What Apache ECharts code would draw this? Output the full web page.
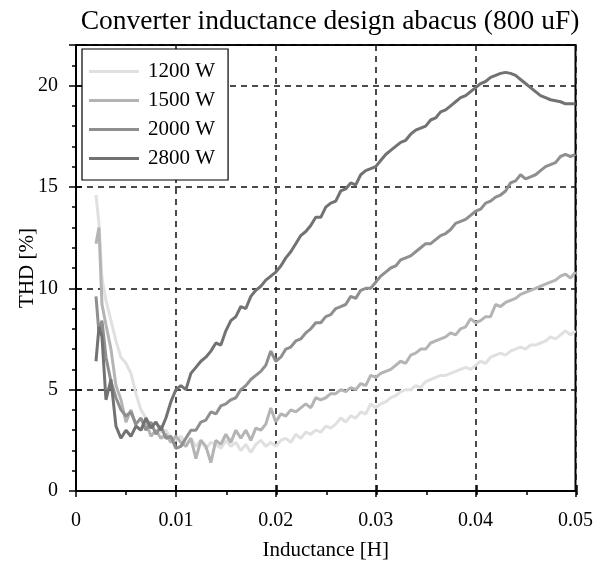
<!DOCTYPE html>
<html><head><meta charset="utf-8">
<script src="https://cdn.jsdelivr.net/npm/echarts@6/dist/echarts.min.js"></script>
<style>html,body{margin:0;padding:0;background:#fff}#c{width:596px;height:570px}</style>
</head><body><div id="c"></div>
<script>
const inductance = [0.0020,0.0023,0.0026,
  0.0030,0.0035,0.0040,0.0045,0.0050,0.0055,0.0060,0.0065,0.0070,0.0075,
  0.0080,0.0085,0.0090,0.0095,0.0100,0.0105,0.0110,0.0115,0.0120,0.0125,
  0.0130,0.0135,0.0140,0.0145,0.0150,0.0155,0.0160,0.0165,0.0170,0.0175,
  0.0180,0.0185,0.0190,0.0195,0.0200,0.0205,0.0210,0.0215,0.0220,0.0225,
  0.0230,0.0235,0.0240,0.0245,0.0250,0.0255,0.0260,0.0265,0.0270,0.0275,
  0.0280,0.0285,0.0290,0.0295,0.0300,0.0305,0.0310,0.0315,0.0320,0.0325,
  0.0330,0.0335,0.0340,0.0345,0.0350,0.0355,0.0360,0.0365,0.0370,0.0375,
  0.0380,0.0385,0.0390,0.0395,0.0400,0.0405,0.0410,0.0415,0.0420,0.0425,
  0.0430,0.0435,0.0440,0.0445,0.0450,0.0455,0.0460,0.0465,0.0470,0.0475,
  0.0480,0.0485,0.0490,0.0495,0.0500];
const thd1200 = [14.6,13.2,10.5,
  9.4,8.4,7.4,6.6,6.3,5.8,4.8,4.0,3.6,3.2,
  3.4,2.9,3.0,2.6,2.5,2.7,2.3,2.6,2.2,2.5,
  2.1,2.4,2.3,2.1,2.5,2.2,2.4,2.0,2.3,1.9,
  2.3,2.5,2.2,2.4,2.2,2.5,2.6,2.4,2.8,2.6,
  2.9,2.8,3.0,2.9,3.2,3.1,3.3,3.6,3.4,3.7,
  3.6,3.9,3.8,4.3,4.1,4.3,4.4,4.6,4.7,4.9,
  5.0,5.0,5.2,5.1,5.4,5.5,5.6,5.7,5.7,5.8,
  5.9,6.0,6.1,6.0,6.2,6.4,6.3,6.6,6.7,6.8,
  6.7,6.9,7.0,7.1,7.0,7.2,7.2,7.3,7.4,7.6,
  7.5,7.7,7.9,7.7,7.9];
const thd1500 = [12.2,13.0,9.2,
  8.2,7.0,5.2,4.5,3.4,4.0,3.2,3.0,3.4,2.7,
  3.0,2.6,2.8,2.4,2.7,2.4,2.2,2.6,1.6,2.5,
  2.2,1.4,2.5,2.3,2.8,2.4,3.0,2.6,3.0,2.5,
  3.1,3.0,3.3,4.1,3.4,3.8,3.7,4.0,3.9,4.1,
  4.3,4.1,4.6,4.5,4.6,4.8,4.8,5.0,4.9,5.1,
  5.0,5.3,5.2,5.7,5.6,5.8,5.9,6.0,6.2,6.4,
  6.3,6.7,6.8,7.0,7.0,7.3,7.4,7.5,7.6,7.8,
  7.7,8.0,8.1,8.5,8.3,8.4,8.6,8.6,9.2,9.1,
  9.3,9.4,9.5,9.7,9.8,9.9,10.0,10.1,10.2,10.3,
  10.4,10.6,10.7,10.5,10.8];
const thd2000 = [9.6,7.8,8.4,
  6.6,5.4,4.6,4.0,3.7,3.9,3.3,3.6,3.0,3.4,
  2.8,3.2,2.6,2.7,2.1,2.2,2.6,3.0,3.0,3.4,
  3.5,3.9,3.8,4.2,4.3,4.5,4.6,5.0,5.2,5.5,
  5.7,5.9,6.2,6.9,6.4,6.6,7.0,7.1,7.4,7.5,
  7.8,8.0,8.3,8.3,8.6,8.7,9.0,9.1,9.2,9.6,
  9.5,9.9,10.0,10.0,10.3,10.6,10.8,11.0,11.1,11.4,
  11.5,11.6,11.8,12.0,12.2,12.2,12.4,12.6,12.7,12.9,
  13.2,13.3,13.4,13.6,13.8,13.9,14.2,14.3,14.5,14.6,
  14.8,15.2,15.3,15.6,15.4,15.5,15.6,15.8,16.0,16.1,
  16.2,16.5,16.6,16.5,16.6];
const thd2800 = [6.4,8.1,7.6,
  4.5,5.5,3.2,2.6,3.0,2.7,3.2,3.0,3.6,3.1,
  3.4,3.0,3.6,4.4,5.0,5.2,5.0,5.8,6.1,6.4,
  6.6,6.9,7.3,7.2,7.9,8.4,8.6,9.1,9.0,9.6,
  9.9,10.1,10.4,10.6,10.8,11.1,11.5,11.8,12.2,12.6,
  12.8,13.1,13.5,13.5,14.0,14.2,14.3,14.8,14.9,15.2,
  15.1,15.6,15.8,15.9,16.0,16.3,16.6,16.8,17.0,17.2,
  17.3,17.6,17.8,17.9,18.0,18.3,18.4,18.7,18.8,19.0,
  19.2,19.4,19.5,19.7,19.9,20.1,20.2,20.4,20.5,20.6,
  20.65,20.6,20.5,20.3,20.1,19.9,19.7,19.5,19.4,19.3,
  19.25,19.2,19.1,19.1,19.1];
const seriesNames = ['1200 W','1500 W','2000 W','2800 W'];
const seriesValues = [thd1200, thd1500, thd2000, thd2800];
const seriesColors = ['#e0e0e0','#b4b4b4','#8f8f8f','#727272'];

const FONT = "'Liberation Serif','Times New Roman',Times,serif";
const rect = {left:76, right:19, top:45, bottom:79};
const dash = {color:'#111', type:[6,5], width:1.5};
const blk = {color:'#000', width:1.5};

function tickAxis(gridIndex, min, max, interval, inside, len) {
  return {gridIndex, type:'value', min, max, interval,
    axisLine:{show:false}, axisLabel:{show:false}, splitLine:{show:false},
    axisTick:{show:true, inside, length:len, lineStyle:blk}};
}

const chart = echarts.init(document.getElementById('c'), null, {renderer:'canvas'});
chart.setOption({
  animation:false,
  backgroundColor:'#fff',
  title:{text:'Converter inductance design abacus (800 uF)', left:325, top:3, textAlign:'center',
    textStyle:{fontFamily:FONT, fontSize:27.5, fontWeight:'normal', color:'#000'}},
  legend:{orient:'vertical', left:82, top:49, padding:[12,13,11,7],
    itemWidth:50, itemHeight:3, itemGap:8, icon:'rect',
    backgroundColor:'#fff', borderColor:'#000', borderWidth:1.2, borderRadius:0,
    textStyle:{fontFamily:FONT, fontSize:21, color:'#000', padding:[0,0,0,4]},
    data:seriesNames},
  grid:[
    Object.assign({show:true, borderColor:'#000', borderWidth:2, backgroundColor:'transparent', containLabel:false}, rect),
    Object.assign({}, rect),
    Object.assign({}, rect)
  ],
  xAxis:[
    {gridIndex:0, type:'value', min:0, max:0.05, interval:0.01,
      name:'Inductance [H]', nameLocation:'middle', nameGap:49, nameMoveOverlap:false,
      nameTextStyle:{fontFamily:FONT, fontSize:21, color:'#000'},
      axisLine:{onZero:false, lineStyle:{color:'#000', width:2}},
      axisTick:{show:true, length:6, lineStyle:blk},
      axisLabel:{margin:20, color:'#000', fontFamily:FONT, fontSize:20},
      splitLine:{show:true, lineStyle:dash}},
    tickAxis(1, 0, 0.05, 0.01, true, 6),
    tickAxis(2, 0, 0.05, 0.005, false, 4)
  ],
  yAxis:[
    {gridIndex:0, type:'value', min:0, max:22, interval:5,
      name:'THD [%]', nameLocation:'middle', nameGap:38, nameMoveOverlap:false,
      nameTextStyle:{fontFamily:FONT, fontSize:21, color:'#000'},
      axisLine:{onZero:false, lineStyle:{color:'#000', width:2}},
      axisTick:{show:true, length:7, lineStyle:blk},
      axisLabel:{margin:18, color:'#000', fontFamily:FONT, fontSize:20,
        formatter:v => v > 20 ? '' : String(v)},
      splitLine:{show:true, lineStyle:dash}},
    tickAxis(1, 0, 22, 5, true, 6),
    tickAxis(2, 0, 22, 1, false, 4)
  ],
  series: seriesNames.map((name, k) => ({
    name, type:'line', xAxisIndex:0, yAxisIndex:0,
    showSymbol:false, symbol:'none',
    data: inductance.map((x, i) => [x, seriesValues[k][i]]),
    itemStyle:{color:seriesColors[k]},
    lineStyle:{color:seriesColors[k], width:3},
    emphasis:{disabled:true}
  }))
});
</script></body></html>
